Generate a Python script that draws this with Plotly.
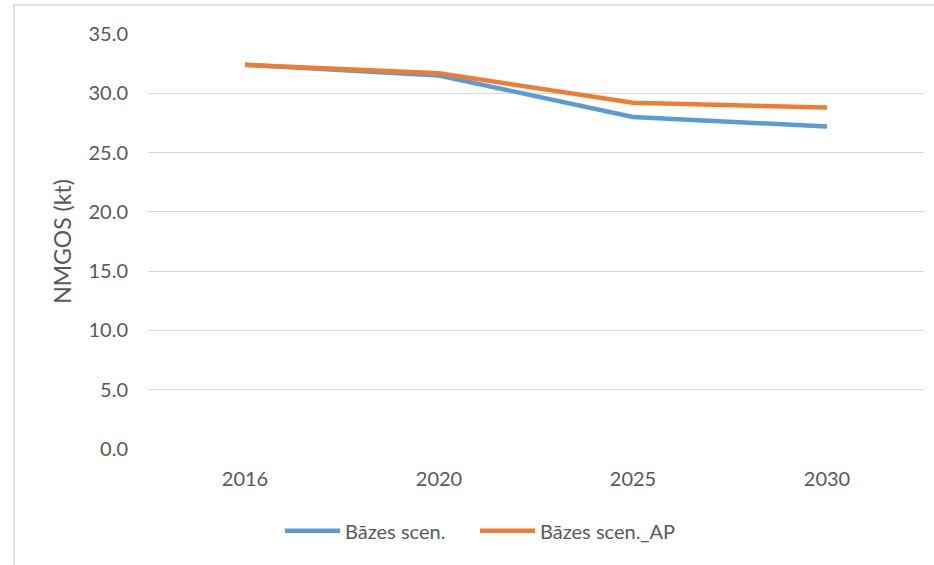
import plotly.graph_objects as go

years = ["2016", "2020", "2025", "2030"]
base = [32.4, 31.5, 28.0, 27.2]
base_ap = [32.4, 31.7, 29.2, 28.8]
y_ticks = [0, 5, 10, 15, 20, 25, 30, 35]
y_tick_labels = [f"{v:.1f}" for v in y_ticks]

FONT = "Lato"
GREY = "#595959"
FS = 20

fig = go.Figure()
fig.add_trace(go.Scatter(
    x=years, y=base, name="Bāzes scen.", mode="lines",
    line=dict(color="#5B9BD5", width=4.5), legend="legend",
))
fig.add_trace(go.Scatter(
    x=years, y=base_ap, name="Bāzes scen._AP", mode="lines",
    line=dict(color="#ED7D31", width=4.5), legend="legend2",
))

W, H = 934, 565
L, R, T, B = 148, 10, 34, 116
pw, ph = W - L - R, H - T - B

# light frame around the chart area
fig.add_shape(
    type="rect", xref="paper", yref="paper",
    x0=(14 - L) / pw, x1=(W + 10 - L) / pw,
    y0=-(H + 10 - T - ph) / ph, y1=(T + ph - 5) / ph,
    line=dict(color="#D9D9D9", width=1.5), layer="below",
)

legend_common = dict(
    orientation="h", xref="paper", xanchor="left",
    y=-0.197, yanchor="middle", font=dict(size=FS, color=GREY),
    itemwidth=55, bgcolor="rgba(0,0,0,0)",
)

fig.update_layout(
    width=W, height=H,
    margin=dict(l=L, r=R, t=T, b=B),
    paper_bgcolor="white", plot_bgcolor="white",
    font=dict(family=FONT, size=FS, color=GREY),
    showlegend=True,
    legend=dict(x=(280 - L) / pw, **legend_common),
    legend2=dict(x=(475 - L) / pw, **legend_common),
    xaxis=dict(
        type="category", range=[-0.5, 3.5],
        showgrid=False, showline=False, zeroline=False,
        ticks="", ticklabelstandoff=16,
        tickfont=dict(size=FS, color=GREY),
    ),
    yaxis=dict(
        range=[0, 35], tickvals=y_ticks, ticktext=y_tick_labels,
        showgrid=True, gridcolor="#D9D9D9", gridwidth=1.2,
        zeroline=False, showline=False, ticks="",
        ticklabelstandoff=19,
        tickfont=dict(size=FS, color=GREY),
        title=dict(text="NMGOS (kt)", font=dict(size=23, color=GREY), standoff=10),
    ),
)

fig.write_html("out.html")
